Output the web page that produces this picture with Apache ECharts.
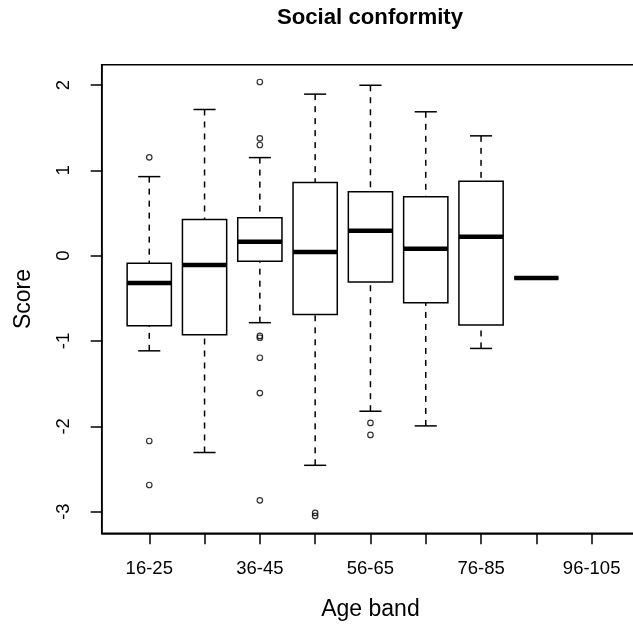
<!DOCTYPE html>
<html>
<head>
<meta charset="utf-8">
<script src="https://cdn.jsdelivr.net/npm/echarts@6/dist/echarts.min.js"></script>
<style>
  html, body { margin: 0; padding: 0; background: #fff; }
  #chart { width: 633px; height: 626px; }
</style>
</head>
<body>
<div id="chart"></div>
<script>
// Age bands on the x axis
const categories = ['16-25', '26-35', '36-45', '46-55', '56-65', '66-75', '76-85', '86-95', '96-105'];

// Box summaries per band (null where a band has no scores)
const lowerWhisker = [-1.115, -2.307, -0.785, -2.457, -1.823, -1.995, -1.087, -0.262, null];
const quartile1    = [-0.822, -0.927, -0.066, -0.688, -0.309, -0.552, -0.813, -0.262, null];
const median       = [-0.320, -0.109,  0.164,  0.043,  0.293,  0.082,  0.223, -0.262, null];
const quartile3    = [-0.089,  0.423,  0.446,  0.857,  0.751,  0.692,  0.873, -0.262, null];
const upperWhisker = [ 0.927,  1.714,  1.150,  1.894,  1.998,  1.687,  1.405, -0.262, null];

// Outlying scores per band
const outliers = [
  [1.153, -2.172, -2.688],
  [],
  [2.036, 1.376, 1.298, -0.940, -0.962, -1.196, -1.610, -2.868],
  [-3.015, -3.050],
  [-1.960, -2.101],
  [],
  [],
  [],
  []
];

const yTicks = [-3, -2, -1, 0, 1, 2];

const FONT = 'Liberation Sans, Arial, Helvetica, sans-serif';

// Bands sit at positions 1..n on a numeric axis
const bandPos = categories.map((c, i) => i + 1);
const labelPos = bandPos.filter((p, i) => i % 2 === 0);

const boxData = [];
categories.forEach((c, i) => {
  if (median[i] == null) return;
  boxData.push([bandPos[i], lowerWhisker[i], quartile1[i], median[i], quartile3[i], upperWhisker[i]]);
});

const outlierData = [];
outliers.forEach((vals, i) => vals.forEach(v => outlierData.push([bandPos[i], v])));

// Classic box-and-whisker: dashed whiskers, half-width staples, thick median
function renderBox(params, api) {
  const x = api.value(0);
  const lo = api.coord([x, api.value(1)]);
  const b1 = api.coord([x, api.value(2)]);
  const md = api.coord([x, api.value(3)]);
  const b3 = api.coord([x, api.value(4)]);
  const hi = api.coord([x, api.value(5)]);
  const w = api.size([0.8, 0])[0];
  const cx = md[0];
  const dashed = { stroke: '#000', lineWidth: 1.5, lineDash: [6, 6], fill: null };
  const solid = { stroke: '#000', lineWidth: 1.5, fill: null };
  return {
    type: 'group',
    children: [
      { type: 'line', shape: { x1: cx, y1: hi[1], x2: cx, y2: b3[1] }, style: dashed },
      { type: 'line', shape: { x1: cx, y1: lo[1], x2: cx, y2: b1[1] }, style: dashed },
      { type: 'line', shape: { x1: cx - w / 4, y1: hi[1], x2: cx + w / 4, y2: hi[1] }, style: solid },
      { type: 'line', shape: { x1: cx - w / 4, y1: lo[1], x2: cx + w / 4, y2: lo[1] }, style: solid },
      { type: 'rect', shape: { x: cx - w / 2, y: b3[1], width: w, height: b1[1] - b3[1] },
        style: { fill: '#fff', stroke: '#000', lineWidth: 1.5 } },
      { type: 'line', shape: { x1: cx - w / 2, y1: md[1], x2: cx + w / 2, y2: md[1] },
        style: { stroke: '#000', lineWidth: 4.5, fill: null } }
    ]
  };
}

const chart = echarts.init(document.getElementById('chart'), null, { renderer: 'canvas' });

chart.setOption({
  animation: false,
  backgroundColor: '#fff',
  title: {
    text: 'Social conformity',
    left: 365,
    top: 2,
    textAlign: 'center',
    textStyle: { fontFamily: FONT, fontSize: 22.2, fontWeight: 'bold', color: '#000' }
  },
  grid: {
    left: 101.7,
    top: 64.7,
    width: 537.5,
    height: 468.6,
    show: true,
    borderColor: '#000',
    borderWidth: 1.5,
    backgroundColor: 'transparent',
    outerBoundsMode: 'none',
    containLabel: false
  },
  xAxis: {
    type: 'value',
    min: 0.14,
    max: 9.86,
    splitLine: { show: false },
    axisLine: { show: true, onZero: false, lineStyle: { color: '#000', width: 1.5 } },
    axisTick: { show: true, customValues: bandPos, length: 11, lineStyle: { color: '#000', width: 1.5 } },
    axisLabel: {
      customValues: labelPos,
      formatter: v => categories[Math.round(v) - 1],
      fontFamily: FONT, fontSize: 18.5, color: '#000', margin: 26
    },
    name: 'Age band',
    nameLocation: 'middle',
    nameGap: 65,
    nameTextStyle: { fontFamily: FONT, fontSize: 23, color: '#000' }
  },
  yAxis: {
    type: 'value',
    min: -3.254,
    max: 2.239,
    splitLine: { show: false },
    axisLine: { show: true, onZero: false, lineStyle: { color: '#000', width: 1.5 } },
    axisTick: { show: true, customValues: yTicks, length: 11, lineStyle: { color: '#000', width: 1.5 } },
    axisLabel: {
      customValues: yTicks,
      rotate: 90,
      align: 'center',
      verticalAlign: 'middle',
      margin: 38,
      fontFamily: FONT, fontSize: 18.5, color: '#000'
    },
    name: 'Score',
    nameLocation: 'middle',
    nameGap: 67,
    nameTextStyle: { fontFamily: FONT, fontSize: 23, color: '#000' }
  },
  series: [
    {
      type: 'custom',
      name: 'Score',
      renderItem: renderBox,
      encode: { x: 0, y: [1, 2, 3, 4, 5] },
      data: boxData,
      z: 2
    },
    {
      type: 'scatter',
      name: 'Outliers',
      data: outlierData,
      symbol: 'circle',
      symbolSize: 5.5,
      itemStyle: { color: 'rgba(0,0,0,0)', borderColor: '#000', borderWidth: 1.2 },
      z: 3
    }
  ]
});
</script>
</body>
</html>
